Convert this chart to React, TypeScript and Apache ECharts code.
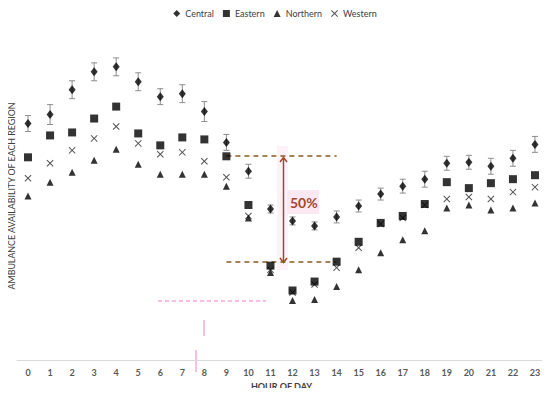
import React, { useEffect, useRef } from "react";
import * as echarts from "echarts";

const hours = ["0","1","2","3","4","5","6","7","8","9","10","11","12","13","14","15","16","17","18","19","20","21","22","23"];
const central = [238,247,272,290,295,280,265,268,250,219,190,152,140,135,144,155,167,175,182,198,199,195,203,217];
const centralErr = [8,10,9,9,9,9,8,9,10,8,7,4,4,4,6,6,6,7,8,7,7,8,8,8];
const eastern = [204,226,229,243,255,228,216,224,222,205,156,95,70,79,99,119,138,145,157,179,173,178,182,186];
const northern = [165,179,189,201,212,197,187,187,187,175,143,88,60,61,74,91,108,121,130,153,156,151,153,158];
const western = [183,198,211,223,235,218,207,209,200,184,145,91,68,76,93,113,137,143,156,162,164,162,169,174];
const upperRef = 206;
const lowerRef = 99;
const refFrom = "9";
const refTo = "14";

const FONT = "Lato, 'Open Sans', sans-serif";
const X_PATH = "path://M1,0 L5,4 L9,0 L10,1 L6,5 L10,9 L9,10 L5,6 L1,10 L0,9 L4,5 L0,1 Z";
const ARROW = "#a0482a";

export default function App() {
  const ref = useRef<HTMLDivElement>(null);
  useEffect(() => {
    const chart = echarts.init(ref.current!, undefined, { renderer: "svg" });
    const errData = central.map((v, i) => [i, v - centralErr[i], v + centralErr[i]]);
    chart.setOption({
      animation: false,
      backgroundColor: "#fff",
      textStyle: { fontFamily: FONT },
      legend: {
        top: 4,
        left: "center",
        itemWidth: 7,
        itemHeight: 7,
        itemGap: 9,
        textStyle: { fontSize: 9, color: "#404040", fontFamily: FONT },
        data: [
          { name: "Central", icon: "diamond" },
          { name: "Eastern", icon: "rect" },
          { name: "Northern", icon: "triangle" },
          { name: "Western", icon: X_PATH },
        ],
      },
      grid: { left: 17, right: 4, top: 40, bottom: 34 },
      xAxis: {
        type: "category",
        data: hours,
        boundaryGap: true,
        axisLine: { lineStyle: { color: "#d9d9d9", width: 1 } },
        axisTick: { show: false },
        axisLabel: { fontSize: 9, color: "#595959", fontWeight: "bold", margin: 8, fontFamily: FONT },
        name: "HOUR OF DAY",
        nameLocation: "middle",
        nameGap: 20,
        nameTextStyle: { fontSize: 9, color: "#404040", fontWeight: "bold", fontFamily: FONT },
      },
      yAxis: {
        type: "value",
        min: 0,
        max: 322,
        axisLine: { show: false },
        axisTick: { show: false },
        axisLabel: { show: false },
        splitLine: { show: false },
      },
      series: [
        {
          type: "custom",
          name: "err",
          z: 1,
          silent: true,
          data: errData,
          renderItem: (params: any, api: any) => {
            const idx = api.value(0);
            const lo = api.coord([idx, api.value(1)]);
            const hi = api.coord([idx, api.value(2)]);
            const st = { stroke: "#8c8c8c", lineWidth: 1 };
            return {
              type: "group",
              children: [
                { type: "line", shape: { x1: lo[0], y1: lo[1], x2: hi[0], y2: hi[1] }, style: st },
                { type: "line", shape: { x1: lo[0] - 3, y1: lo[1], x2: lo[0] + 3, y2: lo[1] }, style: st },
                { type: "line", shape: { x1: hi[0] - 3, y1: hi[1], x2: hi[0] + 3, y2: hi[1] }, style: st },
              ],
            };
          },
        },
        {
          type: "scatter",
          name: "Western",
          symbol: X_PATH,
          symbolSize: 7,
          itemStyle: { color: "#262626" },
          data: western,
          z: 3,
        },
        {
          type: "scatter",
          name: "Northern",
          symbol: "triangle",
          symbolSize: 7,
          itemStyle: { color: "#000" },
          data: northern,
          z: 4,
        },
        {
          type: "scatter",
          name: "Eastern",
          symbol: "rect",
          symbolSize: 8,
          itemStyle: { color: "#000" },
          data: eastern,
          z: 5,
          markLine: {
            silent: true,
            symbol: "none",
            label: { show: false },
            lineStyle: { color: "#8a5a1e", type: [5, 4], width: 1.5 },
            data: [
              [{ coord: [refFrom, upperRef] }, { coord: [refTo, upperRef] }],
              [{ coord: [refFrom, lowerRef] }, { coord: [refTo, lowerRef] }],
            ],
          },
        },
        {
          type: "scatter",
          name: "Central",
          symbol: "diamond",
          symbolSize: [7, 9],
          itemStyle: { color: "#000" },
          data: central,
          z: 6,
        },
      ],
      graphic: [
        {
          type: "text",
          x: 11,
          y: 196,
          rotation: Math.PI / 2,
          style: {
            text: "AMBULANCE AVAILABILITY OF EACH REGION",
            fontSize: 8.8,
            fill: "#404040",
            fontFamily: FONT,
            align: "center",
            verticalAlign: "middle",
          },
        },
        { type: "rect", z: -1, shape: { x: 277, y: 146, width: 11, height: 124 }, style: { fill: "#fdf2f8" } },
        { type: "rect", z: -1, shape: { x: 287, y: 190, width: 32, height: 24 }, style: { fill: "#fce8f3" } },
        { type: "line", shape: { x1: 283.5, y1: 158, x2: 283.5, y2: 262 }, style: { stroke: ARROW, lineWidth: 1.5 } },
        { type: "polyline", shape: { points: [[280, 162], [283.5, 157.5], [287, 162]] }, style: { stroke: ARROW, lineWidth: 1.5, fill: "none" } },
        { type: "polyline", shape: { points: [[280, 258], [283.5, 262.5], [287, 258]] }, style: { stroke: ARROW, lineWidth: 1.5, fill: "none" } },
        { type: "text", x: 290, y: 202, style: { text: "50%", fontSize: 14, fontWeight: "bold", fill: ARROW, fontFamily: FONT, verticalAlign: "middle" } },
        { type: "line", shape: { x1: 158, y1: 301, x2: 266, y2: 301 }, style: { stroke: "#f7a8dc", lineWidth: 1.5, lineDash: [4, 3] } },
        { type: "line", shape: { x1: 204, y1: 320, x2: 204, y2: 336 }, style: { stroke: "#f7a8dc", lineWidth: 1.5 } },
        { type: "line", shape: { x1: 196, y1: 350, x2: 196, y2: 372 }, style: { stroke: "#f7a8dc", lineWidth: 1.5 } },
      ],
    });
    return () => chart.dispose();
  }, []);
  return <div ref={ref} style={{ width: 550, height: 396, margin: -8 }} />;
}
